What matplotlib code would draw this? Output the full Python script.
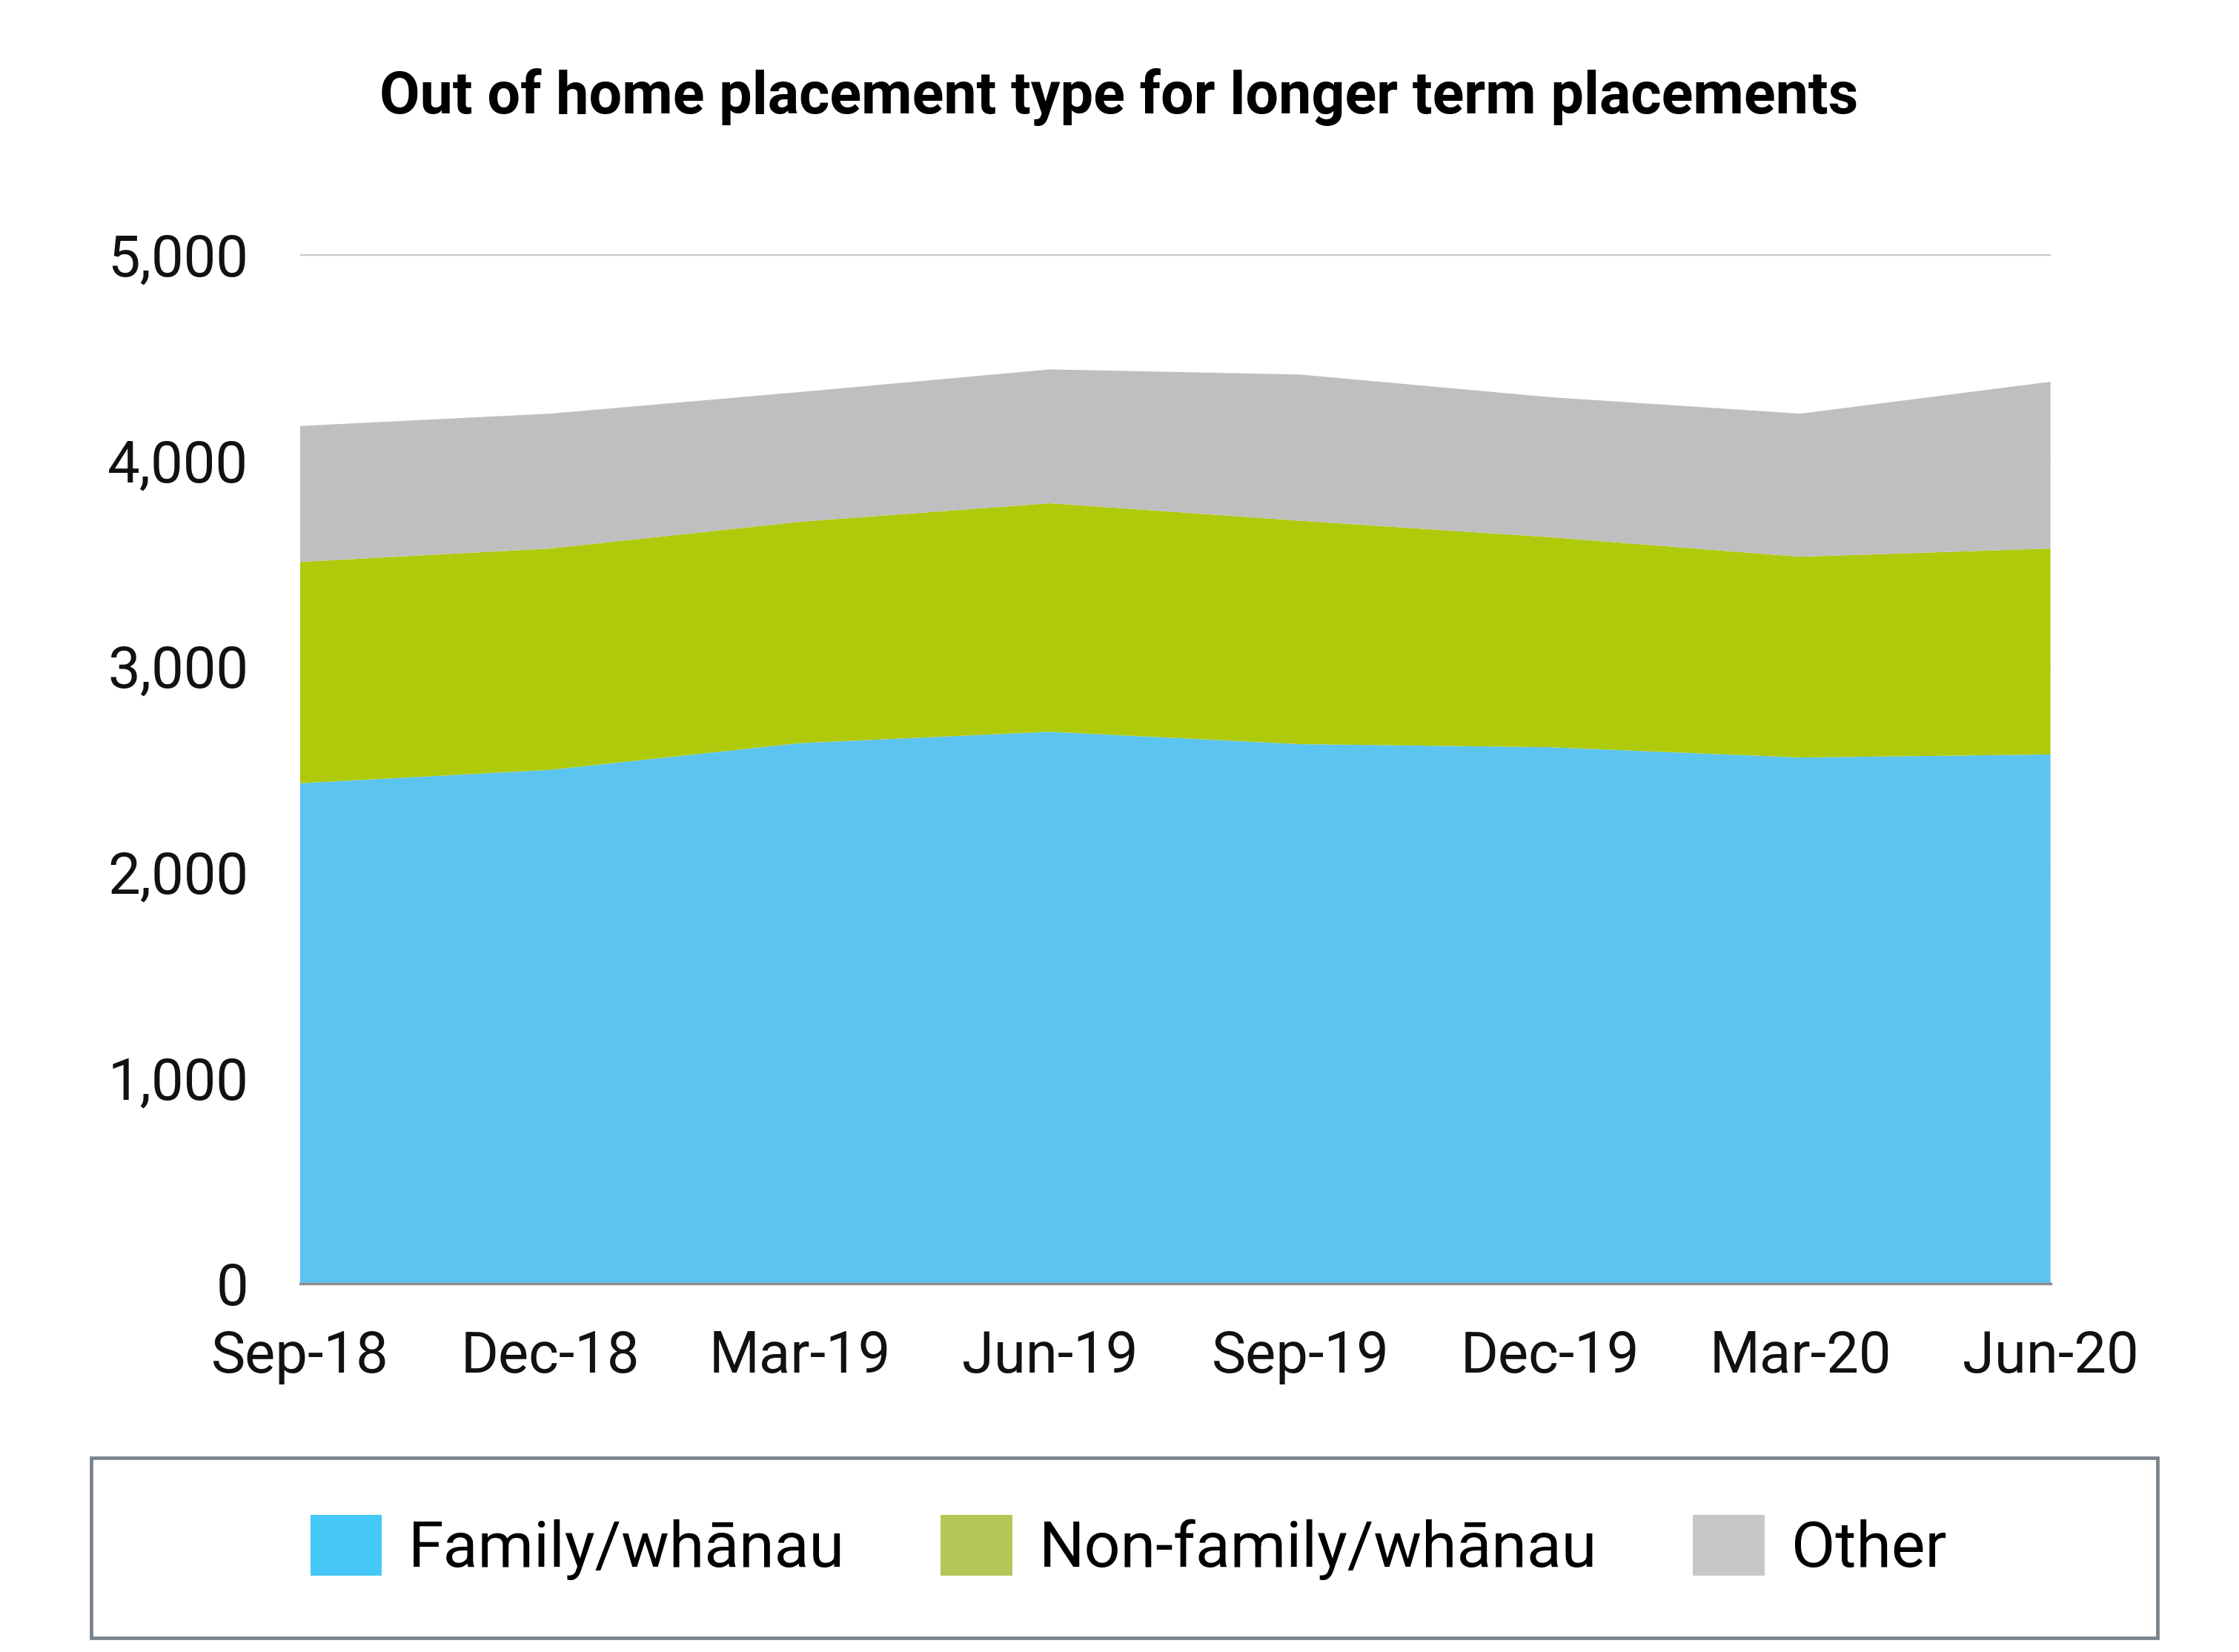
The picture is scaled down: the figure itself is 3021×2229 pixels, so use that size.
import matplotlib
matplotlib.use("Agg")
import matplotlib.pyplot as plt
from matplotlib.patches import Patch, Rectangle
from matplotlib.ticker import FuncFormatter

plt.rcParams['font.family'] = ['Roboto', 'DejaVu Sans']

# quarterly counts
quarters = ['Sep-18', 'Dec-18', 'Mar-19', 'Jun-19', 'Sep-19', 'Dec-19', 'Mar-20', 'Jun-20']
family = [2430, 2495, 2625, 2680, 2620, 2605, 2555, 2570]
non_family = [1075, 1075, 1075, 1110, 1085, 1020, 975, 1000]
other = [660, 655, 630, 650, 710, 680, 695, 810]

labels = ['Family/wh\u0101nau', 'Non-family/wh\u0101nau', 'Other']
area_colors = ['#5BC4F1', '#AFCA0B', '#BFBFBF']
legend_colors = ['#45C8F5', '#B3C756', '#C6C7C9']

fig = plt.figure(figsize=(15.105, 11.145), dpi=200)
ax = fig.add_axes([0.1339, 0.223, 0.7819, 0.6232])

x = range(len(quarters))
ax.stackplot(x, family, non_family, other, colors=area_colors, linewidth=0, zorder=2)

ax.set_xlim(0, len(quarters) - 1)
ax.set_ylim(0, 5000)
ax.set_yticks(range(0, 5001, 1000))
ax.yaxis.set_major_formatter(FuncFormatter(lambda v, p: f'{int(v):,}'))
ax.set_xticks(list(x))
ax.set_xticklabels(quarters)
ax.grid(axis='y', color='#C8C8C8', linewidth=1.2, zorder=1)
ax.set_axisbelow(True)

for s in ['top', 'right', 'left']:
    ax.spines[s].set_visible(False)
ax.spines['bottom'].set_color('#8C8C8C')
ax.spines['bottom'].set_linewidth(1.2)
ax.spines['bottom'].set_zorder(3)
ax.tick_params(axis='both', length=0, labelsize=28, colors='#111111')
ax.tick_params(axis='y', pad=25)
ax.tick_params(axis='x', pad=22)

fig.text(0.4997, 0.9412, 'Out of home placement type for longer term placements',
         ha='center', va='center', fontsize=28.5, fontweight='bold')

# legend frame
fig.add_artist(Rectangle((0.0408, 0.0086), 0.9228, 0.1089, transform=fig.transFigure,
                         fill=False, edgecolor='#7A838B', linewidth=1.7))
handles = [Patch(facecolor=c, edgecolor='none') for c in legend_colors]
fig.legend(handles, labels, loc='center', bbox_to_anchor=(0.504, 0.0632), ncol=3,
           frameon=False, fontsize=31, handlelength=1.12, handleheight=1.08,
           handletextpad=0.42, columnspacing=1.5)

fig.savefig('out.png', dpi=200)
